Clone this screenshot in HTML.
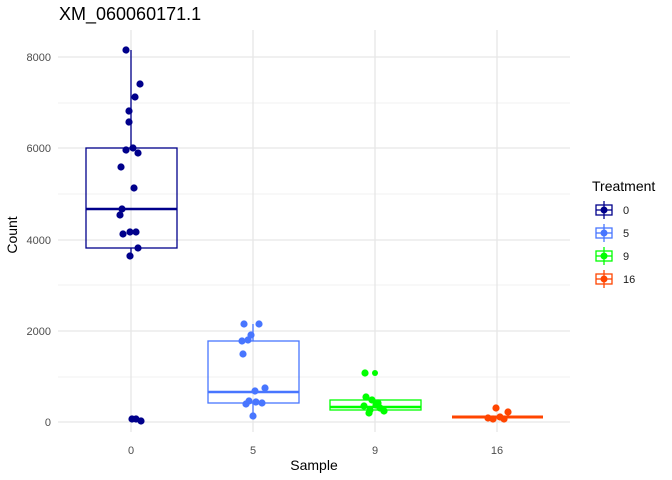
<!DOCTYPE html>
<html><head><style>body{margin:0;background:#fff}svg{display:block}text{font-family:"Liberation Sans",sans-serif}</style></head><body>
<svg width="672" height="480" viewBox="0 0 672 480">
<rect width="672" height="480" fill="#fff"/>
<g stroke="#f0f0f0" stroke-width="1">
<line x1="58" x2="570" y1="103" y2="103"/><line x1="58" x2="570" y1="194" y2="194"/><line x1="58" x2="570" y1="285" y2="285"/><line x1="58" x2="570" y1="377" y2="377"/>
</g>
<g stroke="#e6e6e6" stroke-width="1.3">
<line x1="58" x2="570" y1="57" y2="57"/><line x1="58" x2="570" y1="148" y2="148"/><line x1="58" x2="570" y1="240" y2="240"/><line x1="58" x2="570" y1="331" y2="331"/><line x1="58" x2="570" y1="422" y2="422"/>
<line x1="131" x2="131" y1="30" y2="432"/><line x1="253" x2="253" y1="30" y2="432"/><line x1="375" x2="375" y1="30" y2="432"/><line x1="497" x2="497" y1="30" y2="432"/>
</g>
<g font-size="11" fill="#4d4d4d" text-anchor="end">
<text x="51" y="61">8000</text><text x="51" y="152">6000</text><text x="51" y="244">4000</text><text x="51" y="335">2000</text><text x="51" y="426">0</text>
</g>
<g font-size="11" fill="#4d4d4d" text-anchor="middle">
<text x="131" y="454">0</text><text x="253" y="454">5</text><text x="375" y="454">9</text><text x="497" y="454">16</text>
</g>
<text x="314" y="470" font-size="14" text-anchor="middle">Sample</text>
<text x="17" y="235" font-size="14" text-anchor="middle" transform="rotate(-90 17 235)">Count</text>
<text x="59" y="20" font-size="18">XM_060060171.1</text>
<!-- box 0 -->
<g stroke="#00008B" fill="none" stroke-width="1.3">
<line x1="131" x2="131" y1="50" y2="148"/><line x1="131" x2="131" y1="248" y2="257"/>
<rect x="86" y="148" width="91" height="100"/><line x1="86" x2="177" y1="209" y2="209" stroke-width="2.5"/>
</g>
<g fill="#00008B">
<circle cx="126" cy="50" r="3.6"/><circle cx="140" cy="84" r="3.6"/><circle cx="135" cy="97" r="3.6"/><circle cx="129" cy="111" r="3.6"/><circle cx="129" cy="122" r="3.6"/><circle cx="126" cy="150" r="3.6"/><circle cx="133" cy="148" r="3.6"/><circle cx="138" cy="153" r="3.6"/><circle cx="121" cy="167" r="3.6"/><circle cx="134" cy="188" r="3.6"/><circle cx="122" cy="209" r="3.6"/><circle cx="120" cy="215" r="3.6"/><circle cx="123" cy="234" r="3.6"/><circle cx="130" cy="232" r="3.6"/><circle cx="136" cy="232" r="3.6"/><circle cx="138" cy="248" r="3.6"/><circle cx="130" cy="256" r="3.6"/><circle cx="132" cy="419" r="3.6"/><circle cx="136" cy="419" r="3.6"/><circle cx="141" cy="421" r="3.6"/>
</g>
<!-- box 5 -->
<g stroke="#4876FF" fill="none" stroke-width="1.3">
<line x1="253" x2="253" y1="324" y2="341"/><line x1="253" x2="253" y1="403" y2="416"/>
<rect x="208" y="341" width="91" height="62"/><line x1="208" x2="299" y1="392" y2="392" stroke-width="2.5"/>
</g>
<g fill="#4876FF">
<circle cx="244" cy="324" r="3.6"/><circle cx="259" cy="324" r="3.6"/><circle cx="251" cy="335" r="3.6"/><circle cx="242" cy="341" r="3.6"/><circle cx="248" cy="340" r="3.6"/><circle cx="243" cy="354" r="3.6"/><circle cx="265" cy="388" r="3.6"/><circle cx="255" cy="391" r="3.6"/><circle cx="249" cy="401" r="3.6"/><circle cx="246" cy="404" r="3.6"/><circle cx="256" cy="402" r="3.6"/><circle cx="262" cy="403" r="3.6"/><circle cx="253" cy="416" r="3.6"/>
</g>
<!-- box 9 -->
<g stroke="#00FF00" fill="none" stroke-width="1.3">
<rect x="330" y="400" width="91" height="10"/><line x1="330" x2="421" y1="407" y2="407" stroke-width="2.5"/>
</g>
<g fill="#00FF00">
<circle cx="365" cy="373" r="3.6"/><circle cx="375" cy="373" r="3"/><circle cx="366" cy="397" r="3.6"/><circle cx="372" cy="400" r="3.6"/><circle cx="378" cy="403" r="3.6"/><circle cx="364" cy="406" r="3.6"/><circle cx="370" cy="410" r="3.6"/><circle cx="380" cy="408" r="3.6"/><circle cx="384" cy="411" r="3.6"/><circle cx="369" cy="413" r="3.6"/><circle cx="376" cy="405" r="3.6"/>
</g>
<!-- box 16 -->
<g stroke="#FF4500" fill="none"><line x1="452" x2="543" y1="417" y2="417" stroke-width="3"/></g>
<g fill="#FF4500">
<circle cx="496" cy="408" r="3.6"/><circle cx="508" cy="412" r="3.6"/><circle cx="488" cy="418" r="3.6"/><circle cx="500" cy="417" r="3.6"/><circle cx="504" cy="419" r="3.6"/><circle cx="493" cy="419" r="3.6"/>
</g>
<!-- legend -->
<text x="592" y="191" font-size="14">Treatment</text>
<g stroke-width="1.3">
<g stroke="#00008B" fill="#00008B"><line x1="604" x2="604" y1="201" y2="219"/><rect x="596" y="205" width="16" height="10" fill="none"/><line x1="596" x2="612" y1="210" y2="210"/><circle cx="604" cy="210" r="3.5" stroke="none"/></g>
<g stroke="#4876FF" fill="#4876FF"><line x1="604" x2="604" y1="224" y2="242"/><rect x="596" y="228" width="16" height="10" fill="none"/><line x1="596" x2="612" y1="233" y2="233"/><circle cx="604" cy="233" r="3.5" stroke="none"/></g>
<g stroke="#00FF00" fill="#00FF00"><line x1="604" x2="604" y1="247" y2="265"/><rect x="596" y="251" width="16" height="10" fill="none"/><line x1="596" x2="612" y1="256" y2="256"/><circle cx="604" cy="256" r="3.5" stroke="none"/></g>
<g stroke="#FF4500" fill="#FF4500"><line x1="604" x2="604" y1="270" y2="288"/><rect x="596" y="274" width="16" height="10" fill="none"/><line x1="596" x2="612" y1="279" y2="279"/><circle cx="604" cy="279" r="3.5" stroke="none"/></g>
</g>
<g font-size="11" fill="#1a1a1a"><text x="623" y="214">0</text><text x="623" y="237">5</text><text x="623" y="260">9</text><text x="623" y="283">16</text></g>
</svg>
</body></html>
